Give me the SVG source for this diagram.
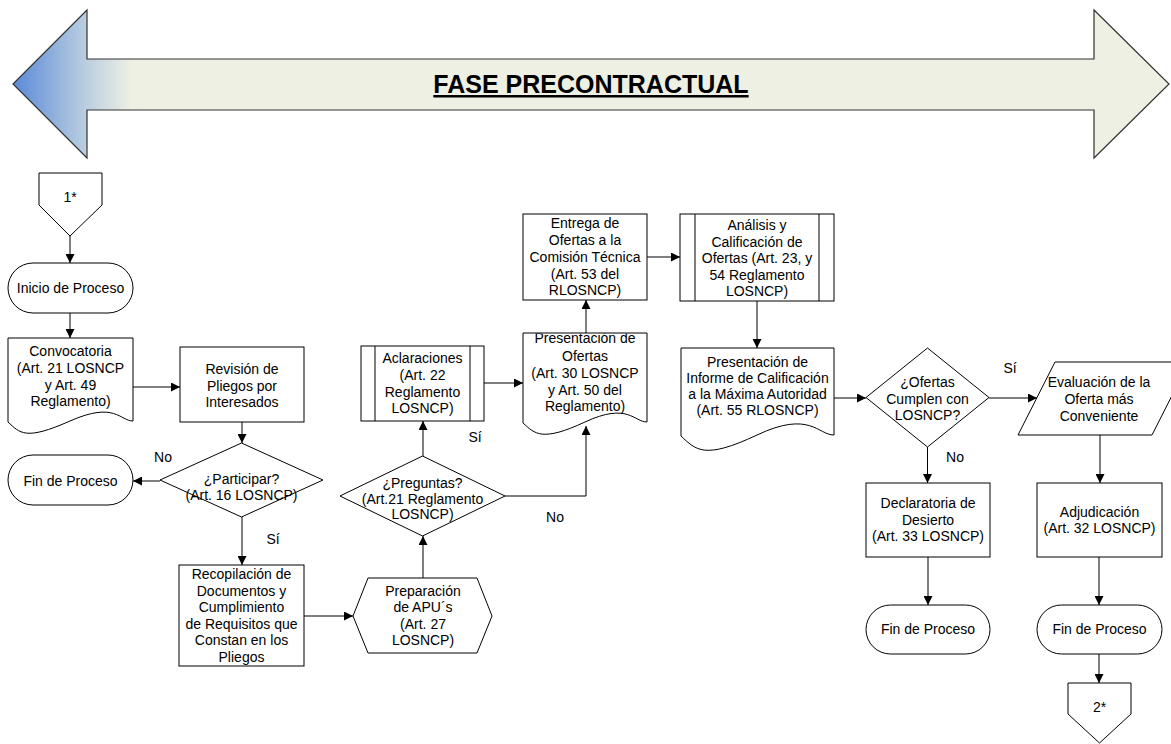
<svg xmlns="http://www.w3.org/2000/svg" width="1171" height="744" viewBox="0 0 1171 744">
<defs>
<linearGradient id="bg" gradientUnits="userSpaceOnUse" x1="13" y1="0" x2="132" y2="0">
<stop offset="0" stop-color="#5a8ad8"/>
<stop offset="0.62" stop-color="#bccfe0"/>
<stop offset="1" stop-color="#eef0e4"/>
</linearGradient>
<marker id="ah" viewBox="0 0 10 10" refX="10" refY="5" markerWidth="9" markerHeight="9" markerUnits="userSpaceOnUse" orient="auto">
<path d="M0,0 L10,5 L0,10 z" fill="#000"/>
</marker>
<clipPath id="cpo"><rect x="523" y="333.5" width="124" height="100"/></clipPath>
</defs>
<style>
.s{fill:#fff;stroke:#000;stroke-width:1}
.t{font-family:"Liberation Sans",Arial,sans-serif;font-size:14px;fill:#000;text-anchor:middle}
.c{fill:none;stroke:#000;stroke-width:1;marker-end:url(#ah)}
</style>
<rect width="1171" height="744" fill="#fff"/>
<g id="fase">
<polygon points="13,84 87,10 87,59 1094,59 1094,10 1169,84 1094,158 1094,110 87,110 87,158" fill="url(#bg)" stroke="#333" stroke-width="1.2"/>
<text x="591" y="93" font-family="'Liberation Sans',Arial,sans-serif" font-size="25" font-weight="bold" text-anchor="middle" text-decoration="underline">FASE PRECONTRACTUAL</text>
</g>
<g id="connectors">
<path class="c" d="M70,236 V263"/>
<path class="c" d="M70,313 V338"/>
<path class="c" d="M133,387 H180"/>
<path class="c" d="M242,422 V443"/>
<path class="c" d="M160,481 H133"/>
<path class="c" d="M242,517 V565"/>
<path class="c" d="M304,616 H353"/>
<path class="c" d="M423,578 V536"/>
<path class="c" d="M423,456 V421"/>
<path class="c" d="M505,496 H586 V426"/>
<path class="c" d="M484,383 H523"/>
<path class="c" d="M586,333 V300"/>
<path class="c" d="M647,257 H680"/>
<path class="c" d="M757,301 V348"/>
<path class="c" d="M834,398 H866"/>
<path class="c" d="M989,398 H1037"/>
<path class="c" d="M927.5,447 V483"/>
<path class="c" d="M1100,435 V483"/>
<path class="c" d="M928,557 V605"/>
<path class="c" d="M1099,557 V605"/>
<path class="c" d="M1099,654 V683"/>
<text class="t" x="163" y="462">No</text>
<text class="t" x="273" y="544">Sí</text>
<text class="t" x="475" y="442">Sí</text>
<text class="t" x="555" y="522">No</text>
<text class="t" x="1010" y="373">Sí</text>
<text class="t" x="955" y="462">No</text>
</g>
<g id="off1">
<polygon class="s" points="39,173 102,173 102,205 70,236 39,205"/>
<text class="t" x="70" y="202">1*</text>
</g>
<g id="inicio">
<rect class="s" x="8" y="263" width="125" height="50" rx="25"/>
<text class="t" x="70.5" y="293">Inicio de Proceso</text>
</g>
<g id="convocatoria">
<path class="s" d="M8,338 H133 V421 C120,421 115,401 70,421 S20,433 8,422 Z"/>
<text class="t" x="70.5" y="356">Convocatoria</text>
<text class="t" x="70.5" y="373">(Art. 21 LOSNCP</text>
<text class="t" x="70.5" y="390">y Art. 49</text>
<text class="t" x="70.5" y="406">Reglamento)</text>
</g>
<g id="revision">
<rect class="s" x="180" y="347" width="124" height="75"/>
<text class="t" x="242" y="374">Revisión de</text>
<text class="t" x="242" y="391">Pliegos por</text>
<text class="t" x="242" y="407">Interesados</text>
</g>
<g id="participar">
<polygon class="s" points="241.5,443 323,480 241.5,517 160,480"/>
<text class="t" x="241.5" y="484">¿Participar?</text>
<text class="t" x="241.5" y="500">(Art. 16 LOSNCP)</text>
</g>
<g id="finL">
<rect class="s" x="8" y="455" width="125" height="50" rx="25"/>
<text class="t" x="70.5" y="486">Fin de Proceso</text>
</g>
<g id="recopilacion">
<rect class="s" x="179" y="565" width="125" height="101"/>
<text class="t" x="241.5" y="579">Recopilación de</text>
<text class="t" x="241.5" y="595.5">Documentos y</text>
<text class="t" x="241.5" y="612">Cumplimiento</text>
<text class="t" x="241.5" y="628.5">de Requisitos que</text>
<text class="t" x="241.5" y="645">Constan en los</text>
<text class="t" x="241.5" y="661.5">Pliegos</text>
</g>
<g id="preparacion">
<polygon class="s" points="353,616 368,578 477,578 492,616 477,653 368,653"/>
<text class="t" x="423" y="596">Preparación</text>
<text class="t" x="423" y="612">de APU´s</text>
<text class="t" x="423" y="629">(Art. 27</text>
<text class="t" x="423" y="645">LOSNCP)</text>
</g>
<g id="preguntas">
<polygon class="s" points="422.5,456 505,496 422.5,536 340,496"/>
<text class="t" x="422.5" y="488">¿Preguntas?</text>
<text class="t" x="422.5" y="504">(Art.21 Reglamento</text>
<text class="t" x="422.5" y="519">LOSNCP)</text>
</g>
<g id="aclaraciones">
<rect class="s" x="361" y="346" width="123" height="75"/>
<path d="M375,346 V421 M470,346 V421" stroke="#000" fill="none"/>
<text class="t" x="422.5" y="363">Aclaraciones</text>
<text class="t" x="422.5" y="380">(Art. 22</text>
<text class="t" x="422.5" y="397">Reglamento</text>
<text class="t" x="422.5" y="413">LOSNCP)</text>
</g>
<g id="presentacionOfertas">
<path class="s" d="M523,333 H647 V422 C634,422 628,402 585,422 S535,434 523,423 Z"/>
<g clip-path="url(#cpo)">
<text class="t" x="585" y="343">Presentación de</text>
</g>
<text class="t" x="585" y="361">Ofertas</text>
<text class="t" x="585" y="378">(Art. 30 LOSNCP</text>
<text class="t" x="585" y="395">y Art. 50 del</text>
<text class="t" x="585" y="411">Reglamento)</text>
</g>
<g id="entrega">
<rect class="s" x="523" y="214" width="124" height="86"/>
<text class="t" x="585" y="228">Entrega de</text>
<text class="t" x="585" y="245">Ofertas a la</text>
<text class="t" x="585" y="262">Comisión Técnica</text>
<text class="t" x="585" y="279">(Art. 53 del</text>
<text class="t" x="585" y="295">RLOSNCP)</text>
</g>
<g id="analisis">
<rect class="s" x="680" y="214" width="154" height="87"/>
<path d="M695,214 V301 M819,214 V301" stroke="#000" fill="none"/>
<text class="t" x="757" y="230">Análisis y</text>
<text class="t" x="757" y="247">Calificación de</text>
<text class="t" x="757" y="263">Ofertas (Art. 23, y</text>
<text class="t" x="757" y="280">54 Reglamento</text>
<text class="t" x="757" y="296">LOSNCP)</text>
</g>
<g id="informe">
<path class="s" d="M681,348 H834 V435 C818,435 810,410 757,435 S696,450 681,436 Z"/>
<text class="t" x="757.5" y="366.5">Presentación de</text>
<text class="t" x="757.5" y="383">Informe de Calificación</text>
<text class="t" x="757.5" y="399">a la Máxima Autoridad</text>
<text class="t" x="757.5" y="415">(Art. 55 RLOSNCP)</text>
</g>
<g id="ofertasCumplen">
<polygon class="s" points="927.5,348 989,397.5 927.5,447 866,397.5"/>
<text class="t" x="927.5" y="387">¿Ofertas</text>
<text class="t" x="927.5" y="404">Cumplen con</text>
<text class="t" x="927.5" y="420">LOSNCP?</text>
</g>
<g id="evaluacion">
<polygon class="s" points="1055,362 1189,362 1152,435 1018,435"/>
<text class="t" x="1099" y="387">Evaluación de la</text>
<text class="t" x="1099" y="404">Oferta más</text>
<text class="t" x="1099" y="421">Conveniente</text>
</g>
<g id="declaratoria">
<rect class="s" x="866" y="483" width="124" height="74"/>
<text class="t" x="928" y="508">Declaratoria de</text>
<text class="t" x="928" y="525">Desierto</text>
<text class="t" x="928" y="541">(Art. 33 LOSNCP)</text>
</g>
<g id="adjudicacion">
<rect class="s" x="1037" y="483" width="125" height="74"/>
<text class="t" x="1099.5" y="517">Adjudicación</text>
<text class="t" x="1099.5" y="533">(Art. 32 LOSNCP)</text>
</g>
<g id="finM">
<rect class="s" x="866" y="605" width="124" height="49" rx="24.5"/>
<text class="t" x="928" y="634">Fin de Proceso</text>
</g>
<g id="finR">
<rect class="s" x="1037" y="605" width="125" height="49" rx="24.5"/>
<text class="t" x="1099.5" y="634">Fin de Proceso</text>
</g>
<g id="off2">
<polygon class="s" points="1068,683 1131,683 1131,714 1099.5,743 1068,714"/>
<text class="t" x="1099.5" y="712">2*</text>
</g>
</svg>
